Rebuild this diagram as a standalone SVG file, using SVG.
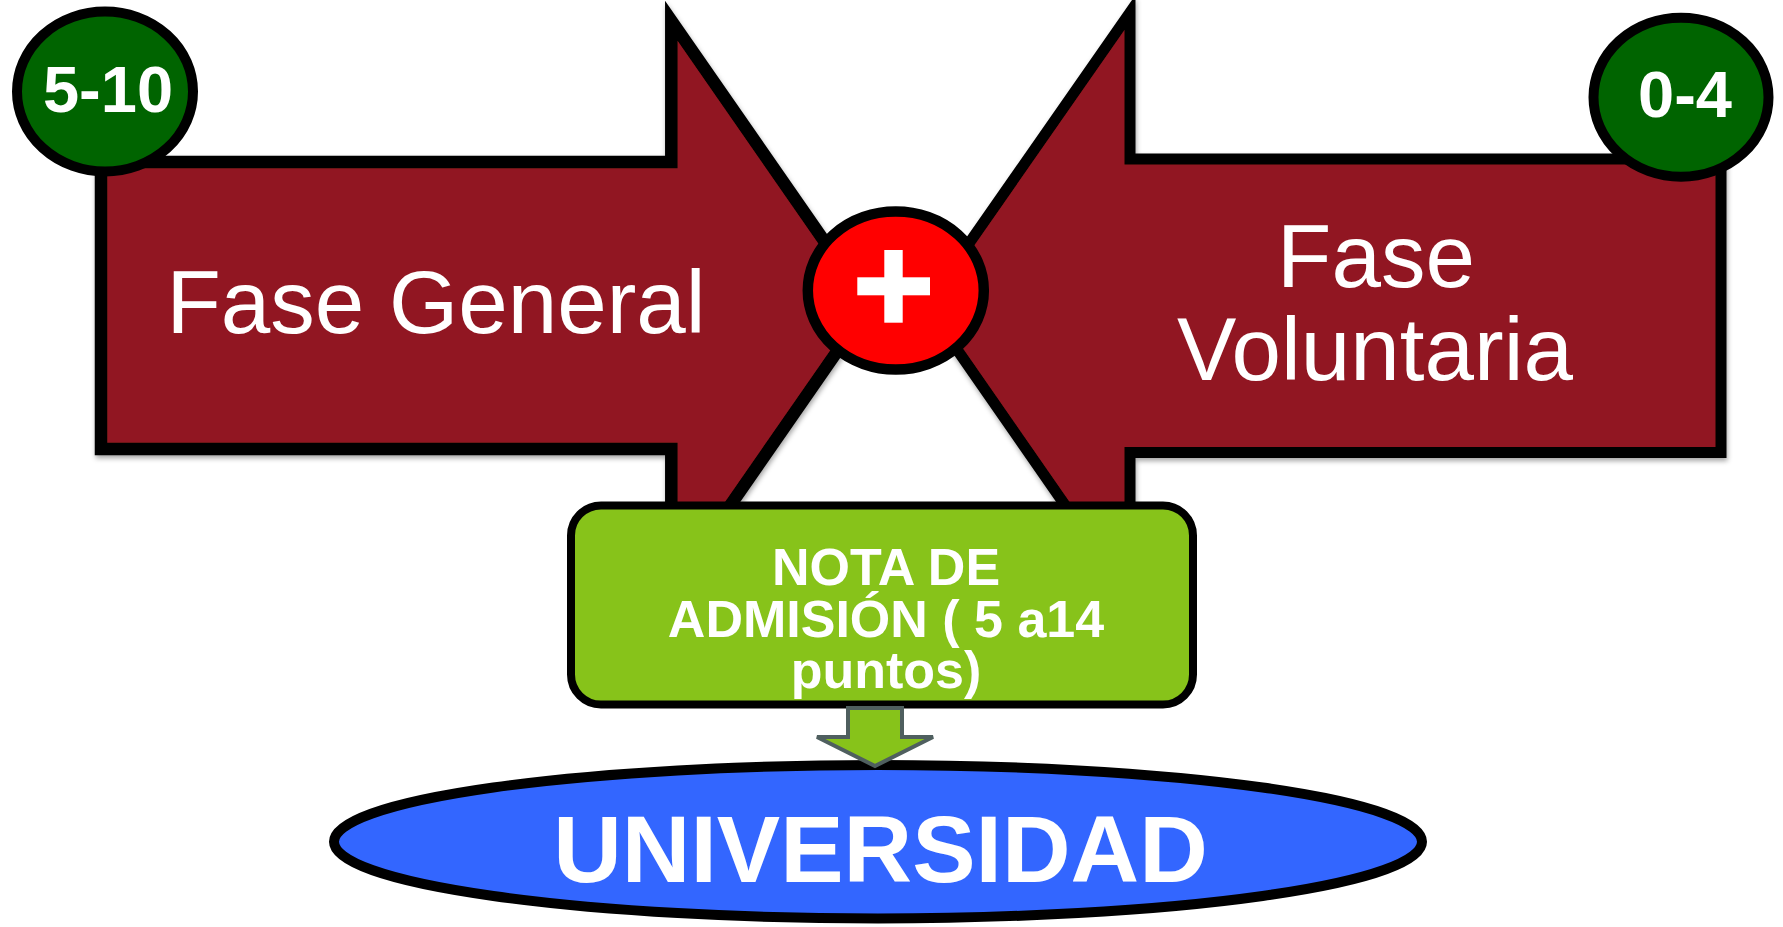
<svg xmlns="http://www.w3.org/2000/svg" width="1783" height="927" viewBox="0 0 1783 927">
  <defs>
    <filter id="shadow" x="-10%" y="-10%" width="120%" height="120%">
      <feDropShadow dx="1" dy="3" stdDeviation="2.5" flood-color="#000" flood-opacity="0.35"/>
    </filter>
  </defs>
  <style>
    .phase { fill: #911820; stroke: #000; stroke-linejoin: miter; stroke-miterlimit: 10; }
    .phase-text { font-family: "Liberation Sans", Arial, sans-serif; font-size: 89px; fill: #fff; text-anchor: middle; }
    .badge { fill: #006400; stroke: #000; stroke-width: 10; }
    .badge-text { font-family: "Liberation Sans", Arial, sans-serif; font-size: 65px; font-weight: bold; fill: #fff; text-anchor: middle; }
    .note { fill: #87c31a; stroke: #000; stroke-width: 8; }
    .note-text { font-family: "Liberation Sans", Arial, sans-serif; font-size: 52px; font-weight: bold; fill: #fff; text-anchor: middle; }
    .uni { fill: #3366ff; stroke: #000; stroke-width: 10; }
    .uni-text { font-family: "Liberation Sans", Arial, sans-serif; font-size: 95px; font-weight: bold; fill: #fff; text-anchor: middle; }
    .down { fill: #87c31a; stroke: #4f5f5f; stroke-width: 4; stroke-linejoin: miter; }
  </style>

  <g id="fase-general">
    <path class="phase" stroke-width="12.5" filter="url(#shadow)" d="M101,162 H671.3 V20.7 L869,305.5 L671.3,590.3 V449 H101 Z"/>
    <text class="phase-text" x="436" y="333">Fase General</text>
  </g>

  <g id="fase-voluntaria">
    <path class="phase" stroke-width="11" filter="url(#shadow)" d="M1721,159 H1130 V12.4 L926,305 L1130,598.6 V452.5 H1721 Z"/>
    <text class="phase-text" x="1376" y="287">Fase</text>
    <text class="phase-text" x="1375" y="380">Voluntaria</text>
  </g>

  <g id="plus">
    <ellipse cx="895.8" cy="290.5" rx="88" ry="79" fill="#ff0000" stroke="#000" stroke-width="10.5"/>
    <rect x="857.3" y="277.3" width="72.7" height="18" fill="#fff"/>
    <rect x="884.3" y="250" width="18.4" height="72.7" fill="#fff"/>
  </g>

  <g id="badge-general">
    <ellipse class="badge" cx="105" cy="91.5" rx="88" ry="80"/>
    <text class="badge-text" x="108" y="112">5-10</text>
  </g>

  <g id="badge-voluntaria">
    <ellipse class="badge" cx="1681" cy="97.2" rx="87.5" ry="79.5"/>
    <text class="badge-text" x="1685" y="117">0-4</text>
  </g>

  <g id="nota-admision">
    <rect class="note" x="571" y="505.5" width="622" height="199" rx="30" ry="30"/>
    <text class="note-text" x="886" y="585">NOTA DE</text>
    <text class="note-text" x="886" y="637">ADMISIÓN ( 5 a14</text>
    <text class="note-text" x="886" y="688">puntos)</text>
  </g>

  <g id="universidad">
    <ellipse class="uni" cx="878" cy="841.7" rx="544" ry="76.7"/>
    <text class="uni-text" x="880.5" y="882">UNIVERSIDAD</text>
  </g>

  <g id="connectors">
    <path class="down" d="M848,708 H902 V737 H933 L875,766 L817,737 H848 Z"/>
  </g>
</svg>
